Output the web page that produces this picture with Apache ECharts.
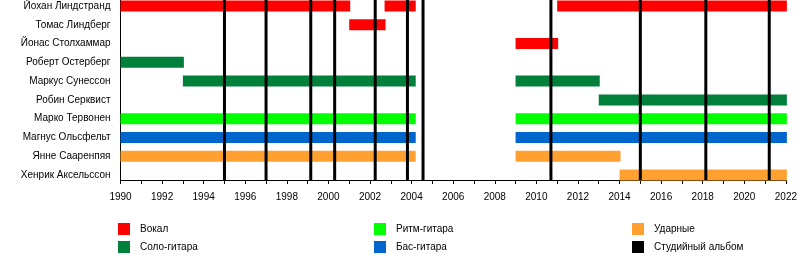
<!DOCTYPE html>
<html>
<head>
<meta charset="utf-8">
<script src="https://cdn.jsdelivr.net/npm/echarts@6/dist/echarts.min.js"></script>
<style>html,body{margin:0;padding:0;background:#fff}#c{width:800px;height:270px}</style>
</head>
<body>
<div id="c"></div>
<script>
// ---- data ----
const members = ['Йохан Линдстранд','Томас Линдберг','Йонас Столхаммар','Роберт Остерберг','Маркус Сунессон','Робин Серквист','Марко Тервонен','Магнус Ольсфельт','Янне Сааренпяя','Хенрик Аксельссон'];
const roles = ['Вокал','Соло-гитара','Ритм-гитара','Бас-гитара','Ударные'];
const albumLabel = 'Студийный альбом';
// [memberIndex, start, end]
const vocals = [[0,1990,2001],[0,2002.7,2004.15],[0,2011,2022],[1,2001,2002.7],[2,2009,2011]];
const leadGuitar = [[3,1990,1993],[4,1993,2004.15],[4,2009,2013],[5,2013,2022]];
const rhythmGuitar = [[6,1990,2004.15],[6,2009,2022]];
const bassGuitar = [[7,1990,2004.15],[7,2009,2022]];
const drums = [[8,1990,2004.15],[8,2009,2014],[9,2014,2022]];
const albums = [1995,1997,1999.15,2000.3,2002.25,2003.8,2004.55,2010.7,2015,2018.15,2021.2];
const yearTicks = [1990,1992,1994,1996,1998,2000,2002,2004,2006,2008,2010,2012,2014,2016,2018,2020,2022];

const roleData = [vocals, leadGuitar, rhythmGuitar, bassGuitar, drums];
const roleColors = ['#ff0000','#00803a','#00ff00','#0066cc','#ffa030'];
const FONT = "'Liberation Sans', Arial, sans-serif";

function barItem(params, api){
  const y = api.value(0);
  const s = api.coord([api.value(1), y]);
  const e = api.coord([api.value(2), y]);
  return {type:'rect', shape:{x:s[0], y:s[1]-5.5, width:e[0]-s[0]+1, height:11}, style:{fill: api.visual('color')}};
}
function lineItem(params, api){
  const x = api.coord([api.value(0), 0])[0];
  const cs = params.coordSys;
  return {type:'line', shape:{x1:x, y1:cs.y, x2:x, y2:cs.y+cs.height}, style:{stroke:'#000', lineWidth:3}};
}

const series = roles.map((r,i)=>({
  name:r, type:'custom', renderItem:barItem, itemStyle:{color:roleColors[i]}, clip:false,
  encode:{x:[1,2], y:0}, data:roleData[i], z:2, animation:false
}));
series.push({name:albumLabel, type:'custom', renderItem:lineItem, itemStyle:{color:'#000'},
  encode:{x:0}, data:albums.map(a=>[a]), z:5, animation:false});

const legendCommon = {orient:'vertical', icon:'rect', itemWidth:12, itemHeight:12, itemGap:6, top:223, padding:0,
  textStyle:{fontFamily:FONT, fontSize:10, color:'#000', padding:[0,0,0,5]}, selectedMode:false};

const chart = echarts.init(document.getElementById('c'), null, {renderer:'canvas'});
chart.setOption({
  animation:false,
  backgroundColor:'#fff',
  grid:{left:120.5, right:11.5, top:0, bottom:90},
  xAxis:{type:'value', min:1990, max:2022, interval:2,
    axisLine:{show:true, onZero:false, lineStyle:{color:'#000', width:1}},
    axisTick:{show:true, length:4, lineStyle:{color:'#000'}},
    minorTick:{show:true, splitNumber:2, length:4, lineStyle:{color:'#000'}},
    splitLine:{show:false},
    axisLabel:{margin:12, fontFamily:FONT, fontSize:10, color:'#000', formatter:v=>String(v)}
  },
  yAxis:{type:'value', inverse:true, min:-0.3195, max:9.266,
    axisLine:{show:true, onZero:false, lineStyle:{color:'#000', width:1}},
    axisTick:{show:false},
    splitLine:{show:false},
    axisLabel:{customValues:members.map((m,i)=>i), margin:10, fontFamily:FONT, fontSize:10, color:'#000',
      formatter:v=>members[Math.round(v)]}
  },
  legend:[
    Object.assign({left:118, data:[roles[0],roles[1]]}, legendCommon),
    Object.assign({left:374, data:[roles[2],roles[3]]}, legendCommon),
    Object.assign({left:632, data:[roles[4],albumLabel]}, legendCommon)
  ],
  series:series
});
</script>
</body>
</html>
